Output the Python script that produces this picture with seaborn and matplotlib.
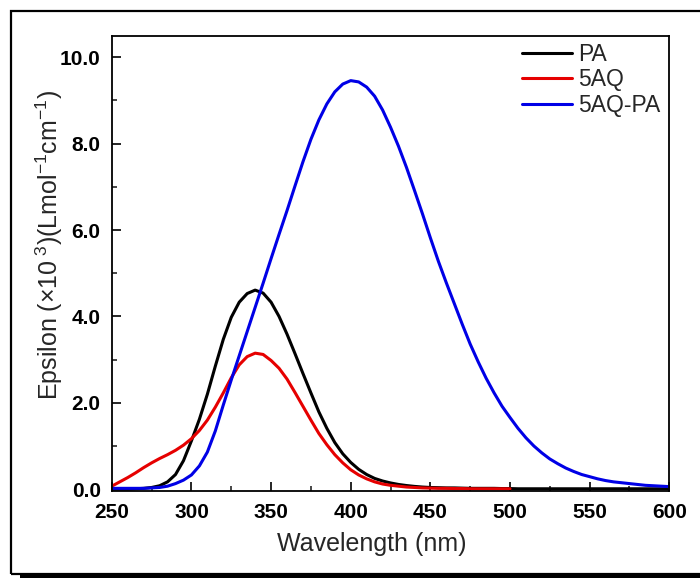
import numpy as np
import pandas as pd
import matplotlib
matplotlib.use("Agg")
import matplotlib.pyplot as plt
from matplotlib.patches import Rectangle
import seaborn as sns

# ---------------- data ----------------
wl_full = list(range(250, 601, 5))
wl_5aq = list(range(250, 501, 5))

pa = [0.00, 0.00, 0.00, 0.01, 0.02, 0.04, 0.08, 0.17, 0.34, 0.66,
      1.12, 1.62, 2.20, 2.85, 3.47, 3.98, 4.33, 4.53, 4.61, 4.54,
      4.33, 4.00, 3.59, 3.14, 2.68, 2.23, 1.79, 1.41, 1.08, 0.82,
      0.62, 0.46, 0.34, 0.25, 0.19, 0.145, 0.11, 0.085, 0.065, 0.05,
      0.04, 0.035, 0.03, 0.03, 0.025, 0.02, 0.02, 0.02, 0.02, 0.015,
      0.015, 0.01, 0.01, 0.01, 0.01, 0.01, 0.01, 0.01, 0.01, 0.01,
      0.01, 0.01, 0.01, 0.01, 0.01, 0.01, 0.01, 0.01, 0.01, 0.01,
      0.01]

aq5 = [0.07, 0.17, 0.27, 0.38, 0.50, 0.61, 0.71, 0.80, 0.90, 1.02,
       1.17, 1.36, 1.60, 1.90, 2.23, 2.58, 2.88, 3.07, 3.15, 3.12,
       2.98, 2.80, 2.55, 2.24, 1.92, 1.60, 1.29, 1.03, 0.80, 0.61,
       0.45, 0.33, 0.24, 0.17, 0.12, 0.09, 0.07, 0.05, 0.04, 0.03,
       0.025, 0.02, 0.02, 0.015, 0.015, 0.01, 0.01, 0.01, 0.01, 0.01,
       0.01]

aq5_pa = [0.02, 0.02, 0.02, 0.02, 0.02, 0.03, 0.04, 0.07, 0.13, 0.21,
          0.33, 0.54, 0.86, 1.35, 1.95, 2.53, 3.09, 3.65, 4.21, 4.77,
          5.34, 5.90, 6.45, 7.02, 7.58, 8.10, 8.55, 8.92, 9.20, 9.38,
          9.46, 9.43, 9.31, 9.10, 8.78, 8.38, 7.94, 7.45, 6.92, 6.38,
          5.82, 5.28, 4.78, 4.30, 3.82, 3.36, 2.95, 2.57, 2.23, 1.92,
          1.66, 1.41, 1.19, 1.00, 0.84, 0.70, 0.59, 0.49, 0.41, 0.34,
          0.29, 0.24, 0.20, 0.17, 0.15, 0.13, 0.11, 0.09, 0.08, 0.07,
          0.06]

series_names = ["PA", "5AQ", "5AQ-PA"]
series_colors = ["#000000", "#e60000", "#0000e6"]
x_ticks = [250, 300, 350, 400, 450, 500, 550, 600]
y_ticks = [0.0, 2.0, 4.0, 6.0, 8.0, 10.0]

df = pd.concat([
    pd.DataFrame({"wl": wl_full, "eps": pa, "series": "PA"}),
    pd.DataFrame({"wl": wl_5aq, "eps": aq5, "series": "5AQ"}),
    pd.DataFrame({"wl": wl_full, "eps": aq5_pa, "series": "5AQ-PA"}),
], ignore_index=True)

# ---------------- style ----------------
sns.set_style("ticks")
plt.rcParams["font.family"] = ["Liberation Sans", "DejaVu Sans"]
plt.rcParams["mathtext.fontset"] = "custom"
plt.rcParams["mathtext.rm"] = "Liberation Sans"
plt.rcParams["mathtext.it"] = "Liberation Sans"
plt.rcParams["mathtext.default"] = "regular"

W, H = 700, 578
fig = plt.figure(figsize=(W / 100, H / 100), dpi=100)
fig.patch.set_facecolor("white")

# outer frame with shadow
fig.patches.append(Rectangle((20 / W, 0), (W - 20) / W, 5 / H,
                             transform=fig.transFigure, facecolor="black",
                             edgecolor="none", zorder=0))
fig.patches.append(Rectangle((11 / W, 1 - 574 / H), 720 / W, 563 / H,
                             transform=fig.transFigure, facecolor="none",
                             edgecolor="black", linewidth=1.6, zorder=1))

ax = fig.add_axes([111.8 / W, 1 - 490.5 / H, (669.3 - 111.8) / W, (490.5 - 35.7) / H])
ax.set_facecolor("white")

sns.lineplot(data=df, x="wl", y="eps", hue="series", hue_order=series_names,
             palette=dict(zip(series_names, series_colors)),
             estimator=None, sort=False, linewidth=2.2, ax=ax)

ax.set_xlim(250, 600)
ax.set_ylim(-0.03, 10.5)
ax.set_xticks(x_ticks)
ax.set_yticks(y_ticks)
ax.set_xticklabels([str(v) for v in x_ticks])
ax.set_yticklabels([f"{v:.1f}" for v in y_ticks])
ax.set_xticks(np.arange(275, 600, 50), minor=True)
ax.set_yticks(np.arange(1.0, 10.0, 2.0), minor=True)

ax.tick_params(axis="both", which="major", direction="in", length=6.5,
               width=1.2, labelsize=15, colors="black")
ax.tick_params(axis="both", which="minor", direction="in", length=3.5, width=1.2)
ax.tick_params(axis="x", which="major", pad=9)
ax.tick_params(axis="y", which="major", pad=8)
for lab in ax.get_xticklabels() + ax.get_yticklabels():
    lab.set_fontweight("bold")

for s in ax.spines.values():
    s.set_visible(True)
    s.set_linewidth(1.3)
    s.set_color("black")

ax.set_xlabel("Wavelength (nm)", fontsize=18)
ax.xaxis.set_label_coords(0.467, -0.092)
ax.set_ylabel(r"Epsilon ($\times$10$^{\ 3}$)(Lmol$^{-1}$cm$^{-1}$)", fontsize=18)
ax.yaxis.set_label_coords(-0.084, 0.54)

handles, labels = ax.get_legend_handles_labels()
leg = ax.legend(handles, labels, loc="upper right", frameon=False, fontsize=16.5,
                handlelength=2.2, handletextpad=0.25, labelspacing=0.12,
                borderaxespad=0.0, bbox_to_anchor=(1.0, 1.005))
for line in leg.get_lines():
    line.set_linewidth(2.2)

fig.savefig("out.png", dpi=100, facecolor="white")
